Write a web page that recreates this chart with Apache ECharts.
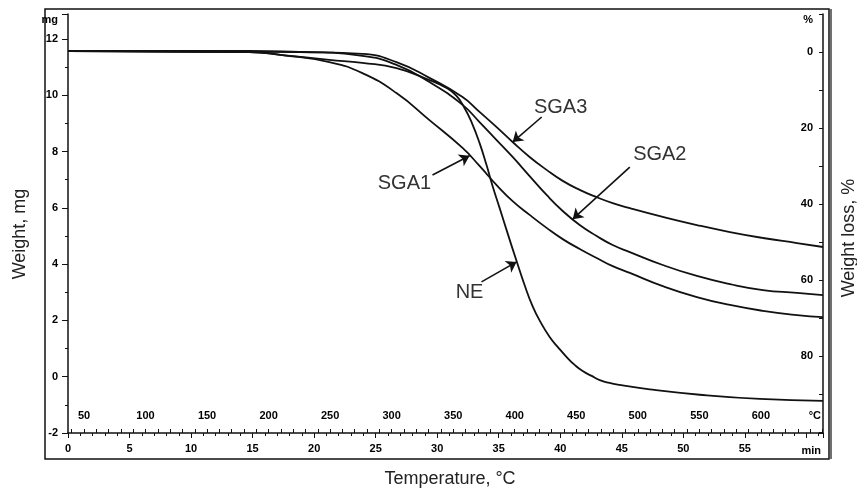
<!DOCTYPE html>
<html>
<head>
<meta charset="utf-8">
<script src="https://cdn.jsdelivr.net/npm/echarts@6/dist/echarts.min.js"></script>
<style>
  html, body { margin: 0; padding: 0; background: #fff; }
  #chart { width: 857px; height: 493px; }
</style>
</head>
<body>
<div id="chart"></div>
<script>
// time (min) vs weight (mg)
const sga1 = [[0, 11.57], [14.73, 11.54], [17.41, 11.43], [21.24, 11.18], [23.92, 10.79], [26.69, 10.08],
  [29.37, 9.12], [32.06, 8.13], [33.44, 7.49], [34.83, 6.81], [36.13, 6.24], [37.51, 5.75], [38.89, 5.29],
  [40.2, 4.89], [41.58, 4.54], [42.96, 4.22], [44.26, 3.93], [45.65, 3.69], [48.33, 3.22], [51.1, 2.83],
  [53.79, 2.55], [56.47, 2.34], [59.24, 2.19], [61.35, 2.12]];
const sga2 = [[0, 11.58], [18.8, 11.54], [23.92, 11.4], [26.69, 11.08], [29.37, 10.47], [32.06, 9.66],
  [33.44, 9.05], [34.83, 8.41], [36.13, 7.81], [37.51, 7.13], [38.89, 6.46], [40.2, 5.89], [41.58, 5.39],
  [42.96, 5.0], [44.26, 4.68], [45.65, 4.43], [48.33, 3.97], [51.1, 3.58], [53.79, 3.29], [56.47, 3.08],
  [59.24, 2.98], [61.35, 2.9]];
const sga3 = [[0, 11.58], [14.73, 11.58], [18.8, 11.54], [23.92, 11.47], [26.69, 11.18], [29.37, 10.62],
  [32.06, 9.94], [33.44, 9.41], [34.83, 8.87], [36.13, 8.34], [37.51, 7.81], [38.89, 7.35], [40.2, 6.96],
  [41.58, 6.64], [42.96, 6.38], [44.26, 6.17], [45.65, 5.99], [48.33, 5.68], [51.1, 5.39], [53.79, 5.14],
  [56.47, 4.93], [59.24, 4.75], [61.35, 4.61]];
const ne = [[0, 11.57], [14.73, 11.54], [17.41, 11.43], [21.24, 11.26], [23.92, 11.15], [26.69, 10.97],
  [29.37, 10.54], [30.76, 10.26], [31.57, 9.98], [32.22, 9.55], [32.79, 9.05], [33.44, 8.31], [34.01, 7.52],
  [34.5, 6.78], [35.07, 6.0], [35.64, 5.21], [36.45, 4.11], [37.1, 3.26], [37.75, 2.51], [38.4, 1.94],
  [39.14, 1.41], [39.79, 1.06], [40.52, 0.7], [41.17, 0.42], [41.82, 0.2], [42.55, 0.03], [43.21, -0.12],
  [44.0, -0.22], [44.83, -0.29], [47.27, -0.45], [51.34, -0.64], [56.22, -0.79], [61.35, -0.86]];

// callouts: label spot, arrow tail, arrow head (min, mg)
const seriesNames = ['SGA1', 'SGA2', 'SGA3', 'NE'];
const labelAt = [[27.34, 6.85], [48.09, 7.88], [40.03, 9.58], [32.63, 3.01]];
const arrowFrom = [[29.62, 7.17], [45.65, 7.45], [38.49, 9.23], [33.6, 3.37]];
const arrowTo = [[32.63, 7.85], [41.01, 5.6], [36.13, 8.34], [36.45, 4.08]];

// axis ticks
const tempLabels = [50, 100, 150, 200, 250, 300, 350, 400, 450, 500, 550, 600];
const tempTicks = [];
for (let t = 40; t <= 650; t += 10) tempTicks.push(t);
const lossLabels = [0, 20, 40, 60, 80];

const startTemp = 37;   // °C at t = 0, heating 10 °C/min
const endTime = 61.35;

const tickFont = { fontFamily: 'Liberation Sans', fontWeight: 'bold', fontSize: 11, color: '#000' };
const black = '#111';

const chart = echarts.init(document.getElementById('chart'));

const series = [sga1, sga2, sga3, ne].map((d, i) => ({
  name: seriesNames[i],
  type: 'line',
  data: d,
  showSymbol: false,
  smooth: 0.5,
  silent: true,
  lineStyle: { color: black, width: 1.8 },
  markLine: {
    silent: true,
    symbol: ['none', 'arrow'],
    symbolSize: 10,
    label: { show: false },
    lineStyle: { color: black, width: 1.6, type: 'solid' },
    data: [[{ coord: arrowFrom[i] }, { coord: arrowTo[i] }]]
  },
  markPoint: {
    silent: true,
    symbol: 'circle',
    symbolSize: 0,
    label: {
      show: true, position: 'inside', formatter: seriesNames[i],
      fontFamily: 'Liberation Sans', fontSize: 20, color: '#333'
    },
    data: [{ coord: labelAt[i] }]
  }
}));

chart.setOption({
  animation: false,
  backgroundColor: '#fff',
  grid: { left: 68, right: 34, top: 14, bottom: 60 },
  xAxis: [
    {
      type: 'value', position: 'bottom',
      min: 0, max: endTime, interval: 5,
      axisLine: { show: true, onZero: false, lineStyle: { color: black, width: 1.5 } },
      axisTick: { show: true, length: 5, lineStyle: { color: black } },
      minorTick: { show: true, splitNumber: 5, length: 3, lineStyle: { color: black } },
      splitLine: { show: false },
      axisLabel: Object.assign({ margin: 10, formatter: v => (v <= 55 && Number.isInteger(v)) ? v : '' }, tickFont),
      name: 'min', nameLocation: 'end', nameGap: -2,
      nameTextStyle: Object.assign({ align: 'right', verticalAlign: 'top', padding: [12, 0, 0, 0] }, tickFont)
    },
    {
      type: 'value', position: 'bottom',
      min: startTemp, max: startTemp + endTime * 10,
      axisLine: { show: false, onZero: false },
      axisTick: { show: true, inside: true, length: 4, customValues: tempTicks, lineStyle: { color: black } },
      splitLine: { show: false },
      axisLabel: Object.assign({ inside: true, margin: 12, customValues: tempLabels }, tickFont),
      name: '°C', nameLocation: 'end', nameGap: -2,
      nameTextStyle: Object.assign({ align: 'right', verticalAlign: 'bottom', padding: [0, 0, 12, 0] }, tickFont)
    }
  ],
  yAxis: [
    {
      type: 'value', position: 'left',
      min: -2, max: 12.89, interval: 2,
      axisLine: { show: true, onZero: false, lineStyle: { color: black, width: 1.5 } },
      axisTick: { show: true, length: 6, lineStyle: { color: black } },
      minorTick: { show: true, splitNumber: 2, length: 3, lineStyle: { color: black } },
      splitLine: { show: false },
      axisLabel: Object.assign({ margin: 10, formatter: v => Number.isInteger(v) ? v : '' }, tickFont),
      name: 'mg', nameLocation: 'end', nameGap: -6,
      nameTextStyle: Object.assign({ align: 'right', verticalAlign: 'middle', padding: [0, 10, 0, 0] }, tickFont)
    },
    {
      type: 'value', position: 'right', inverse: true,
      min: -10, max: 100.26, interval: 10,
      axisLine: { show: true, onZero: false, lineStyle: { color: black, width: 1.5 } },
      axisTick: { show: true, inside: true, length: 4, lineStyle: { color: black } },
      splitLine: { show: false },
      axisLabel: Object.assign({ inside: true, margin: 10, formatter: v => lossLabels.includes(v) ? v : '' }, tickFont),
      name: '%', nameLocation: 'start', nameGap: -6,
      nameTextStyle: Object.assign({ align: 'right', verticalAlign: 'middle', padding: [0, 10, 0, 0] }, tickFont)
    }
  ],
  graphic: [
    { type: 'rect', shape: { x: 45, y: 9, width: 784, height: 450 },
      style: { fill: 'none', stroke: black, lineWidth: 1.5 }, silent: true },
    { type: 'line', shape: { x1: 831, y1: 9, x2: 831, y2: 459 },
      style: { stroke: black, lineWidth: 1.2 }, silent: true },
    { type: 'text', x: 20, y: 234, rotation: Math.PI / 2,
      style: { text: 'Weight, mg', font: '18px "Liberation Sans"', fill: '#222', align: 'center', verticalAlign: 'middle' } },
    { type: 'text', x: 849, y: 238, rotation: Math.PI / 2,
      style: { text: 'Weight loss, %', font: '18px "Liberation Sans"', fill: '#222', align: 'center', verticalAlign: 'middle' } },
    { type: 'text', x: 450, y: 479,
      style: { text: 'Temperature, °C', font: '18px "Liberation Sans"', fill: '#222', align: 'center', verticalAlign: 'middle' } }
  ],
  series: series
});

window.addEventListener('resize', () => chart.resize());
</script>
</body>
</html>
